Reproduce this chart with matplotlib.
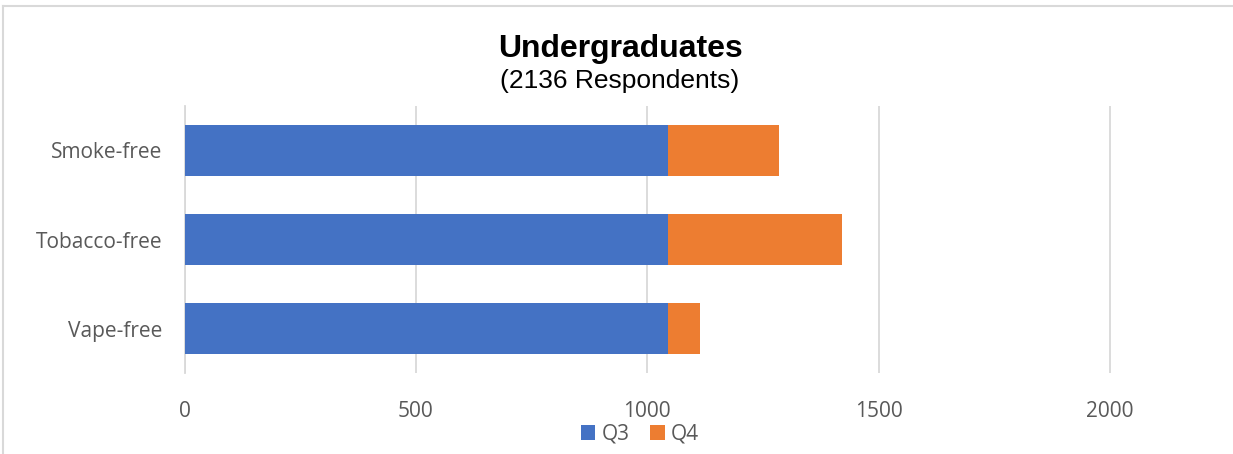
import matplotlib
matplotlib.use("Agg")
import matplotlib.pyplot as plt
from matplotlib.lines import Line2D
from matplotlib.patches import Patch

categories = ["Smoke-free", "Tobacco-free", "Vape-free"]
q3 = [1045, 1045, 1045]
q4 = [240, 376, 70]
series_names = ["Q3", "Q4"]
xticks = [0, 500, 1000, 1500, 2000]

BLUE = "#4472C4"
ORANGE = "#ED7D31"
GRID = "#D9D9D9"
TXT = "#595959"

W, H = 1233, 454
fig = plt.figure(figsize=(W / 100, H / 100), dpi=100)
ax = fig.add_axes([184.5 / W, 1 - 373 / H, 1041 / W, 267 / H])

y = list(range(len(categories)))
ax.barh(y, q3, height=0.573, color=BLUE, label=series_names[0], zorder=3)
ax.barh(y, q4, left=q3, height=0.573, color=ORANGE, label=series_names[1], zorder=3)

ax.set_ylim(2.5, -0.5)
ax.set_xlim(0, 2250)
ax.set_xticks(xticks)
ax.set_xticklabels([str(v) for v in xticks], fontfamily="Open Sans", fontsize=15, color=TXT)
ax.set_yticks(y)
ax.set_yticklabels(categories, fontfamily="Open Sans", fontsize=15, color=TXT)
ax.tick_params(axis="x", length=0, pad=20)
ax.tick_params(axis="y", length=0, pad=16)
ax.grid(axis="x", color=GRID, linewidth=1.3, zorder=0)
for s in ["top", "right", "bottom"]:
    ax.spines[s].set_visible(False)
ax.spines["left"].set_color(GRID)
ax.spines["left"].set_linewidth(1.3)

fig.text(620 / W, 1 - 57 / H, "Undergraduates", ha="center", va="baseline",
         fontfamily="Liberation Sans", fontweight="bold", fontsize=23, color="black")
fig.text(620 / W, 1 - 88 / H, "(2136 Respondents)", ha="center", va="baseline",
         fontfamily="Liberation Sans", fontsize=19, color="black")

handles = [Patch(facecolor=BLUE, edgecolor="none"), Patch(facecolor=ORANGE, edgecolor="none")]
fig.legend(handles, series_names, loc="center", bbox_to_anchor=(640 / W, 1 - 434 / H),
           ncol=2, frameon=False, prop={"family": "Open Sans", "size": 15},
           labelcolor=TXT, handlelength=0.7, handleheight=0.7, handletextpad=0.3,
           columnspacing=1.0)

fig.add_artist(Line2D([3 / W, 1], [1 - 6 / H, 1 - 6 / H], color=GRID, linewidth=1.5, transform=fig.transFigure))
fig.add_artist(Line2D([3 / W, 3 / W], [0, 1 - 6 / H], color=GRID, linewidth=1.5, transform=fig.transFigure))

fig.savefig("out.png", dpi=100, facecolor="white")
